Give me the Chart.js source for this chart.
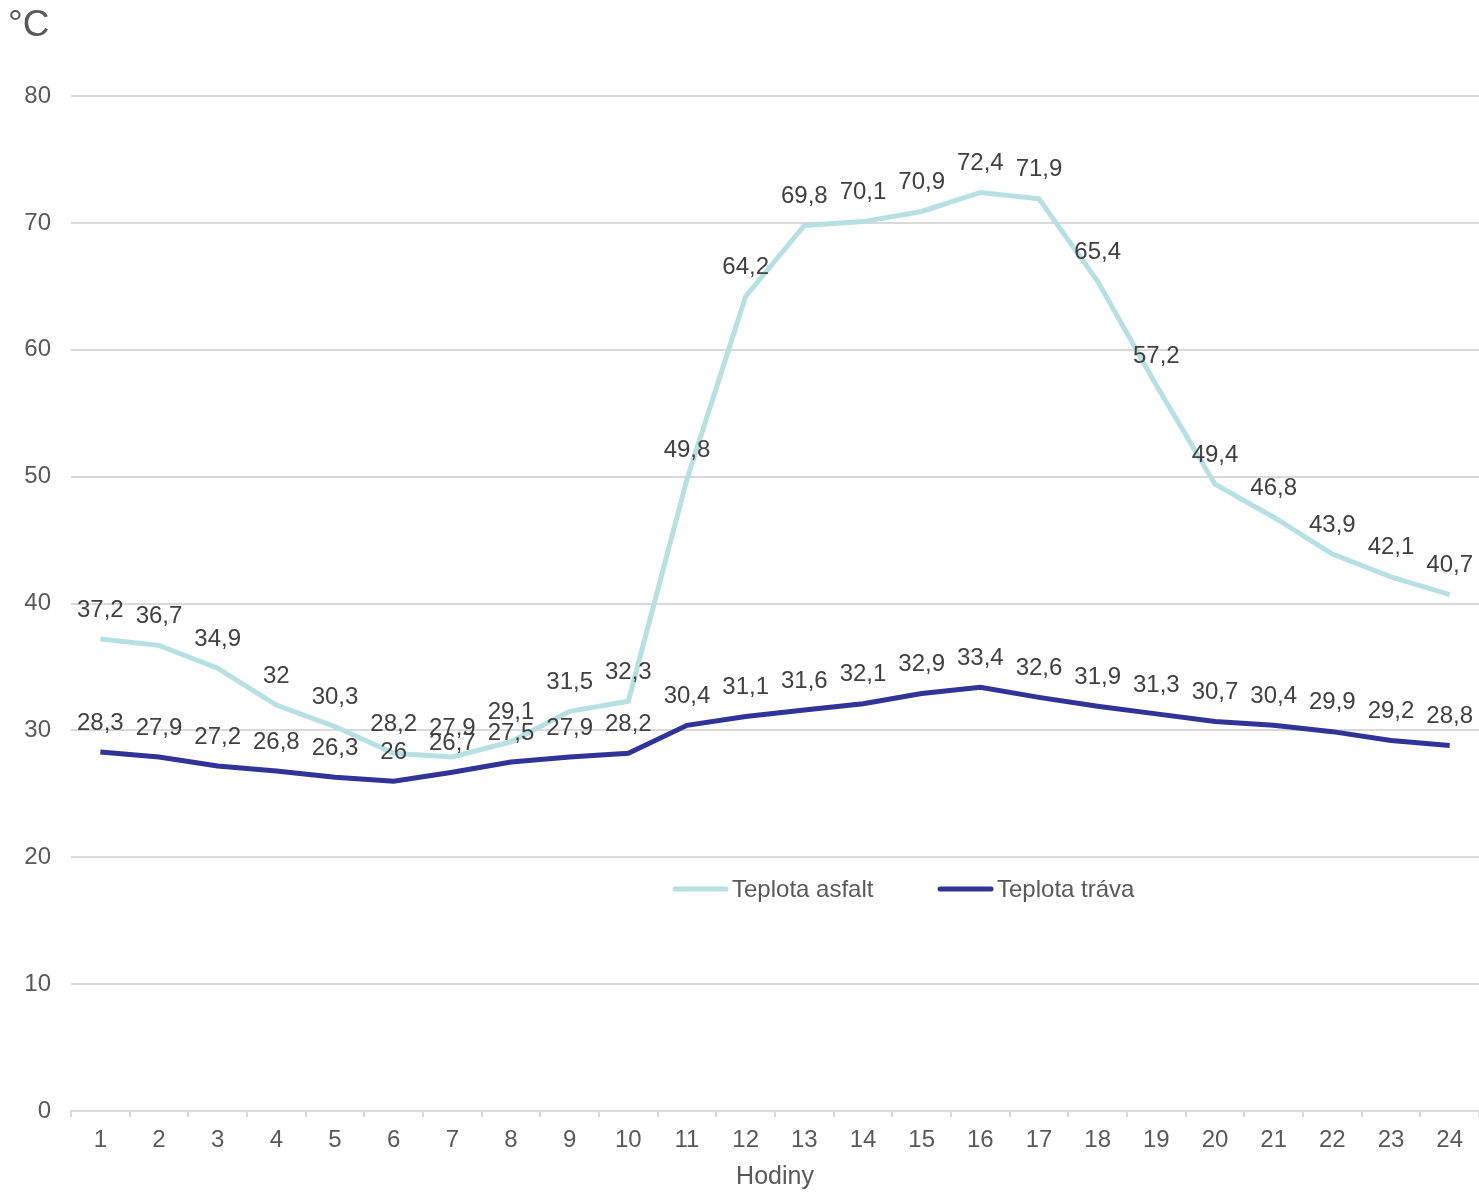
<!DOCTYPE html>
<html>
<head>
<meta charset="utf-8">
<title>Teplota asfalt a tráva</title>
<script src="https://cdn.jsdelivr.net/npm/chart.js@4/dist/chart.umd.min.js"></script>
<style>
  html, body { margin: 0; padding: 0; background: #ffffff; }
  #wrap { width: 1479px; height: 1193px; position: relative; }
</style>
</head>
<body>
<div id="wrap"><canvas id="c" width="1479" height="1193"></canvas></div>
<script>
// Hours of the day
const hours = ['1','2','3','4','5','6','7','8','9','10','11','12','13','14','15','16','17','18','19','20','21','22','23','24'];
// Surface temperature of asphalt, °C
const asfalt = [37.2, 36.7, 34.9, 32, 30.3, 28.2, 27.9, 29.1, 31.5, 32.3, 49.8, 64.2, 69.8, 70.1, 70.9, 72.4, 71.9, 65.4, 57.2, 49.4, 46.8, 43.9, 42.1, 40.7];
// Surface temperature of grass, °C
const trava = [28.3, 27.9, 27.2, 26.8, 26.3, 26, 26.7, 27.5, 27.9, 28.2, 30.4, 31.1, 31.6, 32.1, 32.9, 33.4, 32.6, 31.9, 31.3, 30.7, 30.4, 29.9, 29.2, 28.8];
// Series names
const seriesNames = ['Teplota asfalt', 'Teplota tráva'];
// Value axis
const yMin = 0, yMax = 80, yStep = 10;
const unitLabel = '°C';
const xTitle = 'Hodiny';

const FONT = "'Liberation Sans', Arial, sans-serif";
const COL_ASFALT = '#b7e0e3';
const COL_TRAVA = '#313399';
const GRID = '#d9d9d9';
const TICK_TXT = '#595959';
const LABEL_TXT = '#404040';

const fmt = v => String(v).replace('.', ',');

// Value labels above every point
const valueLabels = {
  id: 'valueLabels',
  afterDatasetsDraw(chart) {
    const ctx = chart.ctx;
    ctx.save();
    ctx.font = '24px ' + FONT;
    ctx.fillStyle = LABEL_TXT;
    ctx.textAlign = 'center';
    ctx.textBaseline = 'middle';
    chart.data.datasets.forEach((ds, i) => {
      const meta = chart.getDatasetMeta(i);
      meta.data.forEach((pt, j) => {
        ctx.fillText(fmt(ds.data[j]), pt.x, pt.y - 29);
      });
    });
    ctx.restore();
  }
};

// Unit caption and the legend inside the plot
const extras = {
  id: 'extras',
  afterDraw(chart) {
    const ctx = chart.ctx;
    ctx.save();
    ctx.fillStyle = TICK_TXT;
    ctx.font = '37px ' + FONT;
    ctx.textAlign = 'left';
    ctx.textBaseline = 'middle';
    ctx.fillText(unitLabel, 8, 26);

    const items = [
      { x: 673, color: COL_ASFALT, text: seriesNames[0] },
      { x: 938, color: COL_TRAVA, text: seriesNames[1] }
    ];
    const ly = 889;
    ctx.font = '24px ' + FONT;
    items.forEach(it => {
      ctx.strokeStyle = it.color;
      ctx.lineWidth = 5;
      ctx.lineCap = 'round';
      ctx.beginPath();
      ctx.moveTo(it.x + 2, ly);
      ctx.lineTo(it.x + 53, ly);
      ctx.stroke();
      ctx.fillStyle = TICK_TXT;
      ctx.fillText(it.text, it.x + 59, ly + 1);
    });
    ctx.restore();
  }
};

new Chart(document.getElementById('c'), {
  type: 'line',
  data: {
    labels: hours,
    datasets: [
      { label: seriesNames[0], data: asfalt, borderColor: COL_ASFALT, backgroundColor: COL_ASFALT,
        borderWidth: 5, pointRadius: 0, tension: 0, order: 2 },
      { label: seriesNames[1], data: trava, borderColor: COL_TRAVA, backgroundColor: COL_TRAVA,
        borderWidth: 5, pointRadius: 0, tension: 0, order: 1 }
    ]
  },
  options: {
    responsive: false,
    animation: false,
    devicePixelRatio: 1,
    layout: { padding: { top: 96, right: 0, bottom: 0, left: 0 } },
    plugins: { legend: { display: false }, tooltip: { enabled: false } },
    scales: {
      x: {
        offset: true,
        grid: { offset: true, drawOnChartArea: false, drawTicks: true, tickLength: 6, color: GRID, lineWidth: 2 },
        border: { display: true, color: GRID, width: 2 },
        ticks: { color: TICK_TXT, font: { family: FONT, size: 24 }, padding: 9, maxRotation: 0, autoSkip: false },
        title: { display: true, text: xTitle, color: TICK_TXT, font: { family: FONT, size: 25 }, padding: { top: 3, bottom: 1 } },
        afterFit(s) { s.height = 82; }
      },
      y: {
        min: yMin, max: yMax,
        ticks: { stepSize: yStep, color: TICK_TXT, font: { family: FONT, size: 24 }, padding: 20 },
        grid: { color: GRID, lineWidth: 2, drawTicks: false },
        border: { display: false },
        afterFit(s) { s.width = 71; }
      }
    }
  },
  plugins: [valueLabels, extras]
});
</script>
</body>
</html>
